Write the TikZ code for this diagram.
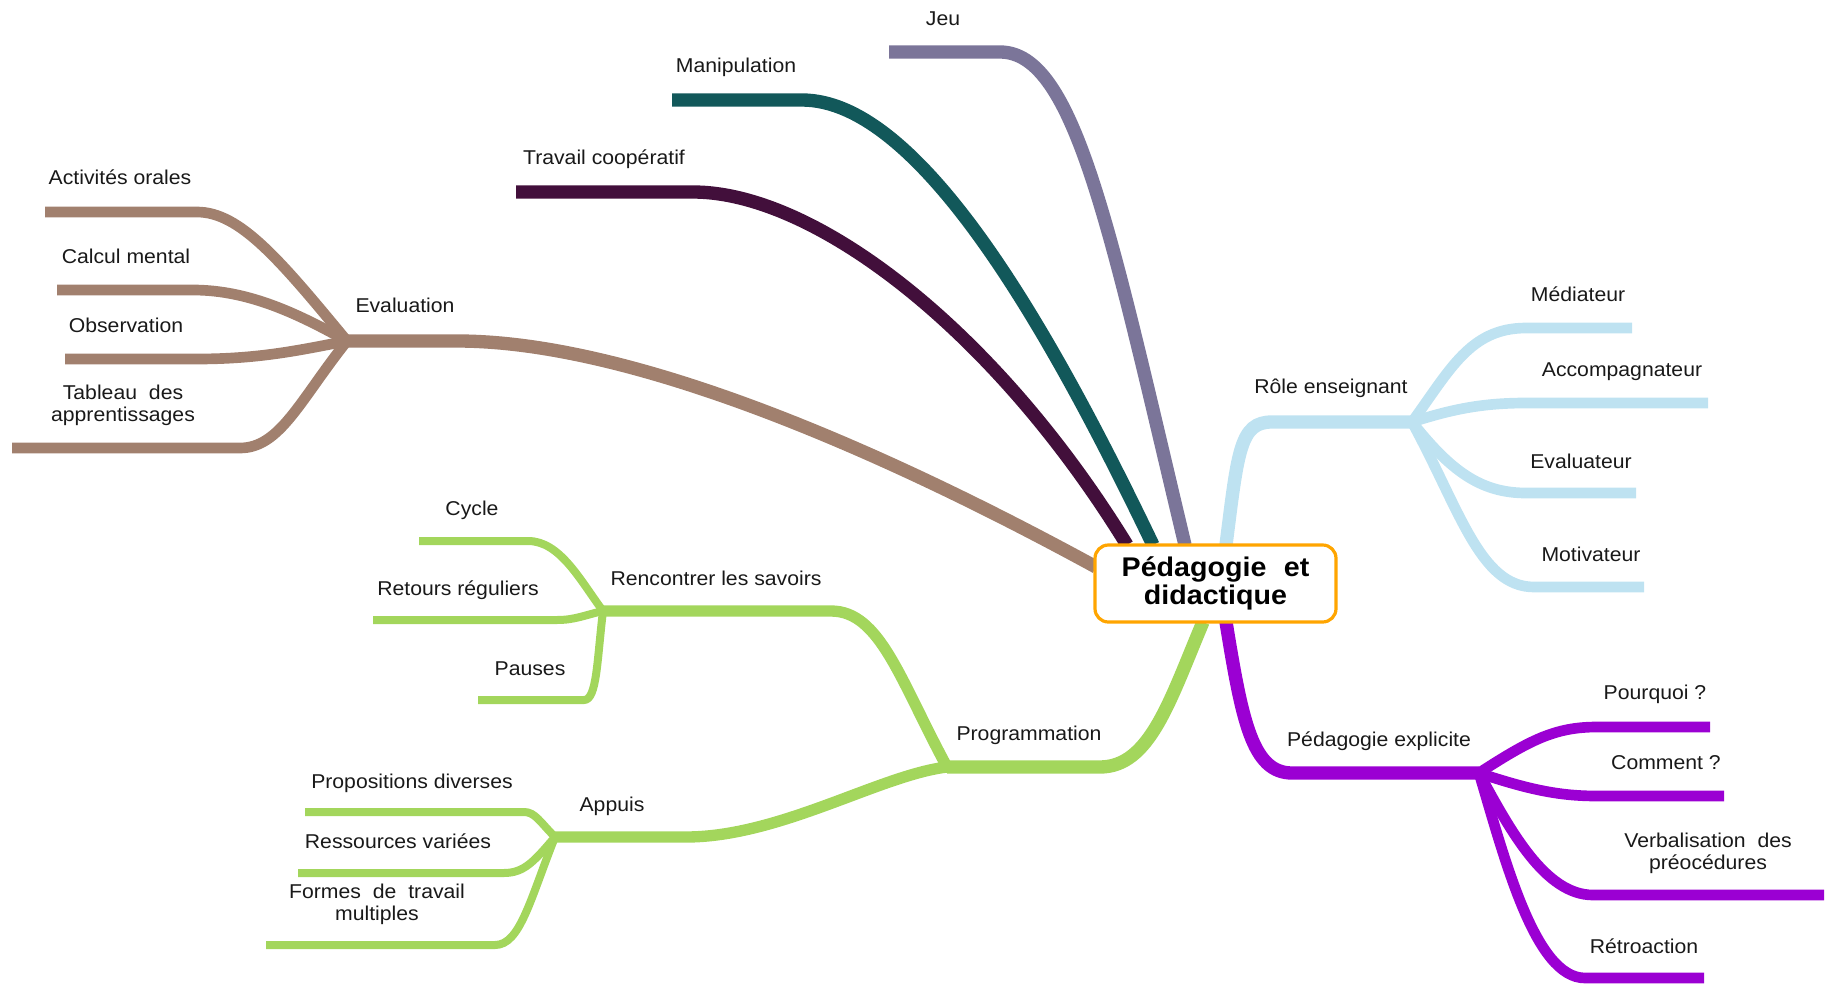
\documentclass[tikz,border=0pt]{standalone}
\usepackage{fontspec}
\setmainfont{Liberation Sans}[FakeStretch=1.06]
\definecolor{cBrown}{RGB}{161,128,110}
\definecolor{cJeu}{RGB}{123,117,153}
\definecolor{cTeal}{RGB}{18,88,90}
\definecolor{cPlum}{RGB}{66,15,59}
\definecolor{cBlue}{RGB}{190,226,241}
\definecolor{cPurple}{RGB}{155,0,211}
\definecolor{cGreen}{RGB}{163,214,92}
\definecolor{cOrange}{RGB}{255,165,0}
\begin{document}
\begin{tikzpicture}[x=0.75pt,y=-0.75pt,
  lbl/.style={font=\fontsize{15}{16.5}\selectfont, inner sep=0pt, align=center, anchor=base, text=black!90},
  mainbr/.style={line width=10pt},
  midbr/.style={line width=8.5pt},
  leafbr/.style={line width=8pt},
  gleaf/.style={line width=6pt},
  rootbox/.style={draw=cOrange, line width=2.4pt, fill=white, rounded corners=10pt,
     minimum width=180.75pt, minimum height=57.75pt, inner sep=0pt, align=center,
     font=\fontsize{20.25}{21}\selectfont\bfseries}]
\useasboundingbox (0,0) rectangle (1835,985);

% ---------- coordinates: hubs and branch ends ----------
\coordinate (rJeu) at (1185,545);
\coordinate (rMan) at (1153,545);
\coordinate (rTra) at (1127,545);
\coordinate (rEva) at (1096,567);
\coordinate (rRole) at (1226,545);
\coordinate (rPed) at (1226,622);
\coordinate (rProg) at (1203,622);

\coordinate (hEva) at (347,341);
\coordinate (hRole) at (1412,422);
\coordinate (hPed) at (1479,773);
\coordinate (hProg) at (947,767);
\coordinate (hRen) at (603,611);
\coordinate (hApp) at (555,837);

\coordinate (eJeu) at (889,52);
\coordinate (eMan) at (672,100);
\coordinate (eTra) at (516,192);

\coordinate (eAct) at (45,212);
\coordinate (eCal) at (57,290);
\coordinate (eObs) at (65,359);
\coordinate (eTab) at (12,448);

\coordinate (eMed) at (1632,328);
\coordinate (eAcc) at (1708,403);
\coordinate (eEvr) at (1636,493);
\coordinate (eMot) at (1644,587);

\coordinate (ePou) at (1710,727);
\coordinate (eCom) at (1724,796);
\coordinate (eVer) at (1824,895);
\coordinate (eRet) at (1704,978);

\coordinate (eCyc) at (419,541);
\coordinate (eRtr) at (373,620);
\coordinate (ePau) at (478,700);

\coordinate (ePro) at (305,812);
\coordinate (eRes) at (298,873);
\coordinate (eFor) at (266,945);

% ---------- main branches ----------
\draw[mainbr, cJeu] (eJeu) -- (1000,52) .. controls (1075,52) and (1110,230) .. (rJeu);
\draw[mainbr, cTeal] (eMan) -- (802,100) .. controls (920,100) and (1050,330) .. (rMan);
\draw[mainbr, cPlum] (eTra) -- (693,192) .. controls (815,192) and (995,330) .. (rTra);
\draw[mainbr, cBrown] (hEva) -- (457,341) .. controls (640,341) and (900,460) .. (rEva);
\draw[mainbr, cBlue] (rRole) .. controls (1238,450) and (1240,422) .. (1272,422) -- (hRole);
\draw[mainbr, cPurple] (rPed) .. controls (1242,720) and (1252,773) .. (1292,773) -- (hPed);
\draw[mainbr, cGreen] (rProg) .. controls (1170,700) and (1150,767) .. (1100,767) -- (hProg);
\draw[midbr, cGreen] (hProg) .. controls (900,680) and (880,611) .. (831,611) -- (hRen);
\draw[midbr, cGreen] (hProg) .. controls (880,775) and (780,837) .. (686,837) -- (hApp);

% ---------- Evaluation leaves ----------
\draw[leafbr, cBrown] (hEva) .. controls (280,260) and (240,212) .. (197,212) -- (eAct);
\draw[leafbr, cBrown] (hEva) .. controls (300,315) and (250,290) .. (193,290) -- (eCal);
\draw[leafbr, cBrown] (hEva) .. controls (300,350) and (260,359) .. (197,359) -- (eObs);
\draw[leafbr, cBrown] (hEva) .. controls (300,400) and (280,448) .. (240,448) -- (eTab);

% ---------- Role leaves ----------
\draw[leafbr, cBlue] (hRole) .. controls (1450,370) and (1470,328) .. (1526,328) -- (eMed);
\draw[leafbr, cBlue] (hRole) .. controls (1450,410) and (1480,403) .. (1526,403) -- (eAcc);
\draw[leafbr, cBlue] (hRole) .. controls (1450,470) and (1480,493) .. (1526,493) -- (eEvr);
\draw[leafbr, cBlue] (hRole) .. controls (1460,510) and (1480,587) .. (1534,587) -- (eMot);

% ---------- Pedagogie explicite leaves ----------
\draw[leafbr, cPurple] (hPed) .. controls (1530,740) and (1555,727) .. (1597,727) -- (ePou);
\draw[leafbr, cPurple] (hPed) .. controls (1530,790) and (1560,796) .. (1597,796) -- (eCom);
\draw[leafbr, cPurple] (hPed) .. controls (1510,830) and (1545,895) .. (1593,895) -- (eVer);
\draw[leafbr, cPurple] (hPed) .. controls (1505,860) and (1535,978) .. (1585,978) -- (eRet);

% ---------- Rencontrer leaves ----------
\draw[gleaf, cGreen] (hRen) .. controls (580,580) and (560,541) .. (528,541) -- (eCyc);
\draw[gleaf, cGreen] (hRen) .. controls (585,615) and (575,620) .. (557,620) -- (eRtr);
\draw[gleaf, cGreen] (hRen) .. controls (597,660) and (597,700) .. (584,700) -- (ePau);

% ---------- Appuis leaves ----------
\draw[gleaf, cGreen] (hApp) .. controls (540,822) and (535,812) .. (524,812) -- (ePro);
\draw[gleaf, cGreen] (hApp) .. controls (535,860) and (525,873) .. (504,873) -- (eRes);
\draw[gleaf, cGreen] (hApp) .. controls (530,900) and (520,945) .. (495,945) -- (eFor);

% ---------- root ----------
\node[rootbox] (root) at (1215.5,583.5) {P\'edagogie\hspace{0.35em} et\\didactique};

% ---------- labels ----------
\node[lbl] (lJeu) at (943,25) {Jeu};
\node[lbl] (lMan) at (736,72) {Manipulation};
\node[lbl] (lTra) at (604,164) {Travail coop\'eratif};
\node[lbl] (lAct) at (120,184) {Activit\'es orales};
\node[lbl] (lCal) at (126,263) {Calcul mental};
\node[lbl] (lObs) at (126,332) {Observation};
\node[lbl] (lTab) at (123,421) {Tableau\hspace{0.3em} des\\apprentissages};
\node[lbl] (lEva) at (405,312) {Evaluation};

\node[lbl] (lRole) at (1331,393) {R\^ole enseignant};
\node[lbl] (lMed) at (1578,301) {M\'ediateur};
\node[lbl] (lAcc) at (1622,376) {Accompagnateur};
\node[lbl] (lEvr) at (1581,468) {Evaluateur};
\node[lbl] (lMot) at (1591,561) {Motivateur};

\node[lbl] (lPed) at (1379,746) {P\'edagogie explicite};
\node[lbl] (lPou) at (1655,699) {Pourquoi ?};
\node[lbl] (lCom) at (1666,769) {Comment ?};
\node[lbl] (lVer) at (1708,869) {Verbalisation\hspace{0.3em} des\\pr\'eoc\'edures};
\node[lbl] (lRet) at (1644,953) {R\'etroaction};

\node[lbl] (lProg) at (1029,740) {Programmation};
\node[lbl] (lRen) at (716,585) {Rencontrer les savoirs};
\node[lbl] (lCyc) at (472,515) {Cycle};
\node[lbl] (lRtr) at (458,595) {Retours r\'eguliers};
\node[lbl] (lPau) at (530,675) {Pauses};
\node[lbl] (lApp) at (612,811) {Appuis};
\node[lbl] (lPro) at (412,788) {Propositions diverses};
\node[lbl] (lRes) at (398,848) {Ressources vari\'ees};
\node[lbl] (lFor) at (377,920) {Formes\hspace{0.3em} de\hspace{0.3em} travail\\multiples};
\end{tikzpicture}
\end{document}
